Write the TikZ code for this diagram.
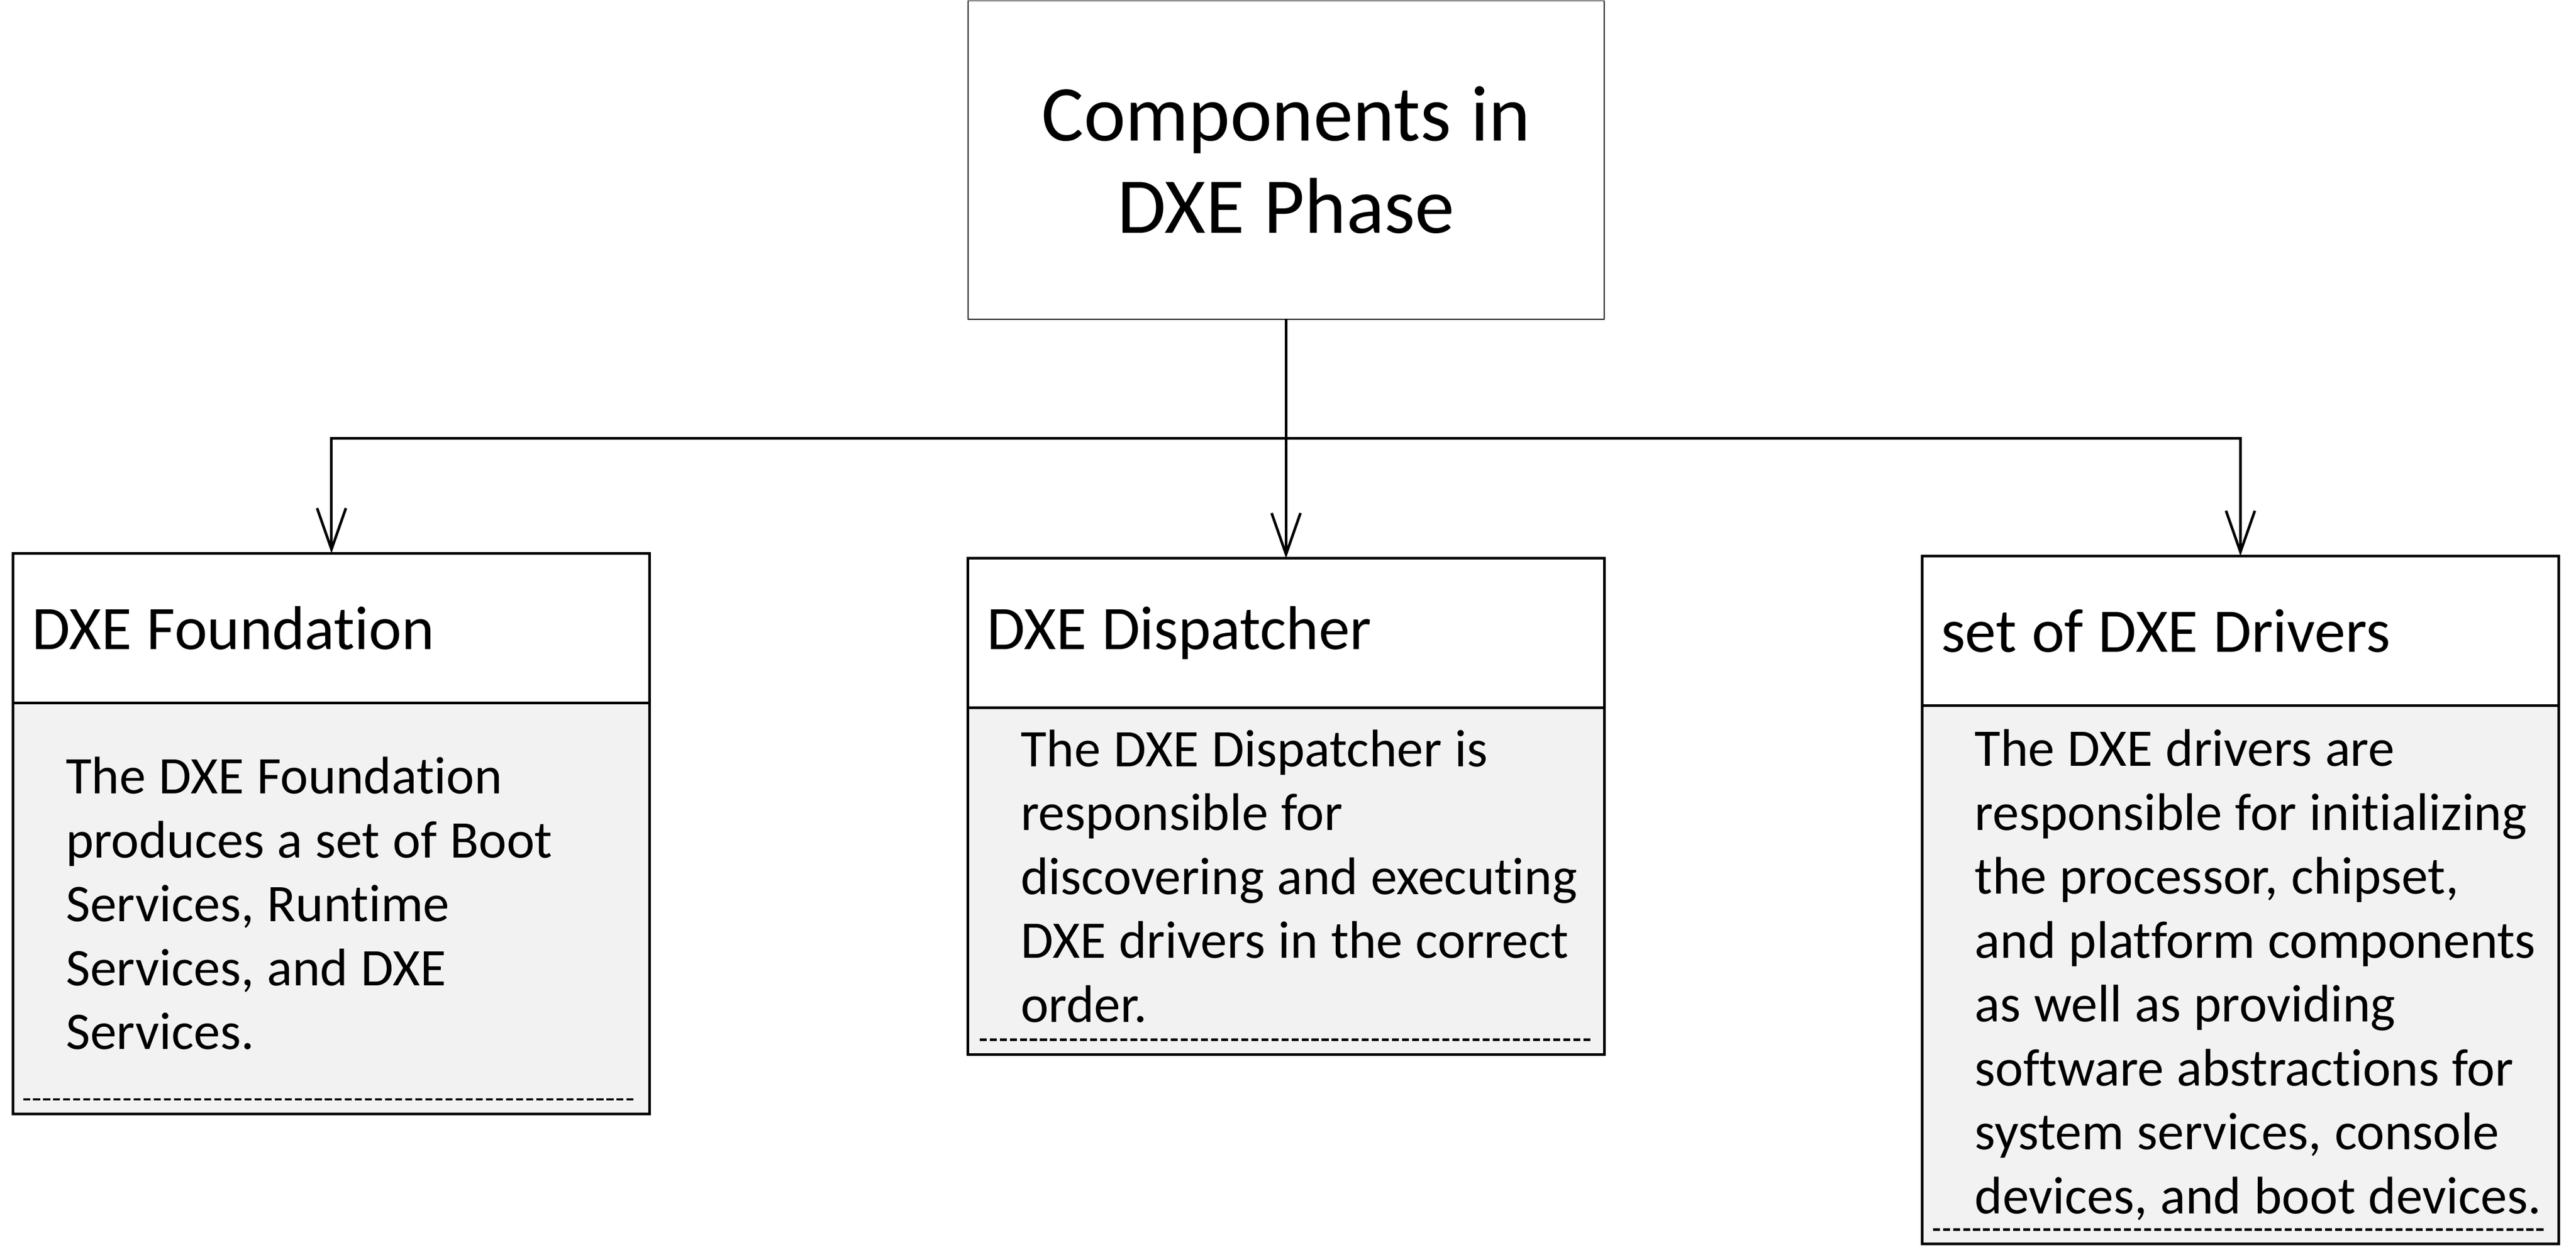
\documentclass[tikz,border=0pt]{standalone}
\usepackage{fontspec}
\setmainfont{Carlito}[Ligatures=NoCommon, Contextuals=NoAlternate, WordSpace=1.08]
\usetikzlibrary{arrows.meta,positioning}
\definecolor{boxgray}{HTML}{F2F2F2}
\tikzset{
  phasebox/.style={draw, line width=0.6pt, outer sep=0pt, minimum width=385.6pt, minimum height=193pt,
                   align=center, font=\fontsize{48}{56}\selectfont},
  headbox/.style={draw, line width=1.6pt, outer sep=0pt, anchor=north west, minimum height=90.7pt,
                  inner xsep=11.5pt, text width=363pt, align=flush left, font=\fontsize{37.6}{45}\selectfont},
  bodybox/.style={draw, line width=1.6pt, outer sep=0pt, fill=boxgray, anchor=north,
                  inner xsep=0pt, text width=386pt, align=flush left, font=\fontsize{32.1}{38.75}\selectfont,
                  execute at begin node={\leftskip=32pt\hyphenpenalty=10000},
                  execute at end node={\par\kern#1}},
  bodybox/.default=6pt,
  link/.style={line width=1.6pt},
  barb/.style={link, -{Straight Barb[length=25pt, width=17.5pt]}},
  dashrule/.style={line width=1.5pt, dash pattern=on 4.2pt off 1.9pt}
}
\begin{document}
\begin{tikzpicture}[x=1pt, y=1pt]
                  \useasboundingbox (0,0) rectangle (1562,-758);
                  \node[phasebox] (phase) at (779.8,-97) {Components in\\DXE Phase};
                  \node[headbox] (foundhead) at (8,-335.6) {DXE Foundation};
                  \node[headbox] (disphead) at (587,-338.6) {DXE Dispatcher};
                  \node[headbox] (drvhead) at (1165.5,-337.2) {set of DXE Drivers};
                  \node[bodybox, minimum height=249.4pt] (foundbody) at (foundhead.south)
                      {The DXE Foundation\\produces a set of Boot\\Services, Runtime\\Services, and DXE\\Services.};
                  \node[bodybox, minimum height=210.2pt] (dispbody) at (disphead.south)
                      {The DXE Dispatcher is\\responsible for\\discovering and executing\\DXE drivers in the correct\\order.};
                  \node[bodybox=0pt, minimum height=326.7pt] (drvbody) at (drvhead.south)
                      {The DXE drivers are\\responsible for initializing\\the processor, chipset,\\and platform components\\as well as providing\\software abstractions for\\system services, console\\devices, and boot devices.};
                  \draw[dashrule] ([xshift=6pt,yshift=8.9pt]foundbody.south west) -- ([xshift=-8pt,yshift=8.9pt]foundbody.south east);
                  \draw[dashrule] ([xshift=7pt,yshift=8.9pt]dispbody.south west) -- ([xshift=-8pt,yshift=8.9pt]dispbody.south east);
                  \draw[dashrule] ([xshift=6.5pt,yshift=8.9pt]drvbody.south west) -- ([xshift=-8pt,yshift=8.9pt]drvbody.south east);
                  \coordinate (fork) at (779.8,-265.9);
                  \draw[link] (phase.south) -- (fork);
                  \draw[barb] (fork) -| (foundhead.north);
                  \draw[barb] (fork) -- (fork |- disphead.north);
                  \draw[barb] (fork) -| (drvhead.north);
\end{tikzpicture}
\end{document}
